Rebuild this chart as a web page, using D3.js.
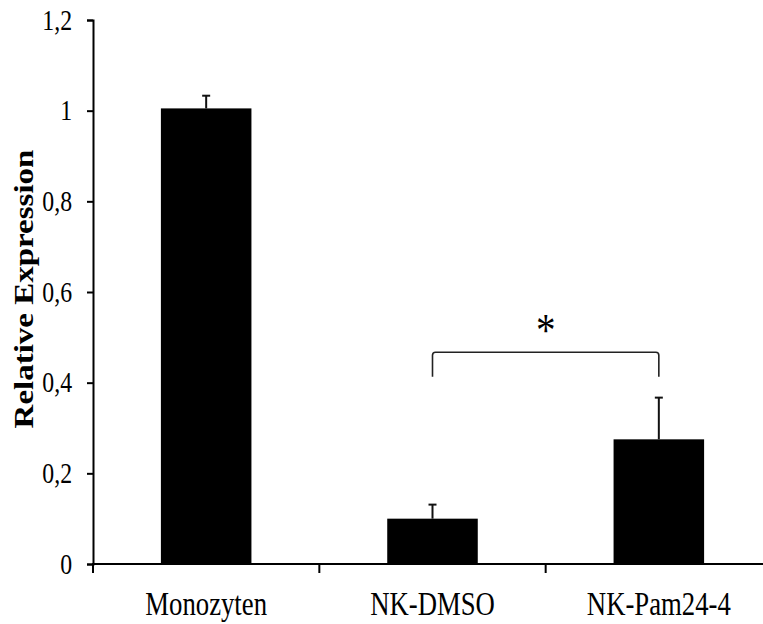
<!DOCTYPE html>
<html>
<head>
<meta charset="utf-8">
<script src="https://cdn.jsdelivr.net/npm/d3@7"></script>
<style>
  body { margin: 0; background: #fff; }
  svg { display: block; }
</style>
</head>
<body>
<div id="chart"></div>
<script>
// data
const categories = ["Monozyten", "NK-DMSO", "NK-Pam24-4"];
const values = [1.005, 0.1, 0.275];
const errors = [0.028, 0.031, 0.092];
const yTicks = [0, 0.2, 0.4, 0.6, 0.8, 1, 1.2];
const yLabel = "Relative Expression";
const signif = { from: "NK-DMSO", to: "NK-Pam24-4", bracketY: 0.467, legY: 0.413, mark: "*" };

const width = 763, height = 624;
const font = "'Liberation Serif', 'Times New Roman', serif";
const squeeze = 0.81; // the picture is stretched vertically, so text looks narrow

const svg = d3.select("#chart")
  .append("svg")
  .attr("width", width)
  .attr("height", height);

const x = d3.scaleBand()
  .domain(categories)
  .range([93, 772])
  .paddingInner(0.6)
  .paddingOuter(0.3);

const y = d3.scaleLinear()
  .domain([0, 1.2])
  .range([564, 20]);

const rows = categories.map((c, i) => ({ c, v: values[i], e: errors[i] }));

// bars
svg.append("g")
  .selectAll("rect")
  .data(rows)
  .enter()
  .append("rect")
  .attr("x", d => x(d.c))
  .attr("y", d => y(d.v))
  .attr("width", x.bandwidth())
  .attr("height", d => y(0) - y(d.v))
  .attr("fill", "#000");

// error bars (upper only)
const err = svg.append("g").attr("stroke", "#111").attr("stroke-width", 2);
rows.forEach(d => {
  const cx = x(d.c) + x.bandwidth() / 2;
  err.append("line")
    .attr("x1", cx).attr("x2", cx)
    .attr("y1", y(d.v)).attr("y2", y(d.v + d.e));
  err.append("line")
    .attr("x1", cx - 4).attr("x2", cx + 4)
    .attr("y1", y(d.v + d.e)).attr("y2", y(d.v + d.e));
});

// y axis
const yAxis = svg.append("g")
  .attr("transform", "translate(93,0)")
  .call(d3.axisLeft(y)
    .tickValues(yTicks)
    .tickSize(6)
    .tickPadding(20)
    .tickFormat(d => String(d).replace(".", ",")));
yAxis.select(".domain").attr("stroke-width", 2);
yAxis.selectAll(".tick line").attr("stroke-width", 2);
yAxis.selectAll("text")
  .attr("font-family", font)
  .attr("font-size", 29)
  .attr("fill", "#000")
  .attr("x", -21 / 0.82)
  .attr("transform", "scale(0.82,1)");

// x axis
const x0 = x.range()[0];
const step = x.step();
svg.append("line")
  .attr("x1", x0 - 1).attr("x2", width)
  .attr("y1", y(0)).attr("y2", y(0))
  .attr("stroke", "#000").attr("stroke-width", 2);
svg.append("g")
  .selectAll("line")
  .data(categories)
  .enter()
  .append("line")
  .attr("x1", (d, i) => x0 + i * step)
  .attr("x2", (d, i) => x0 + i * step)
  .attr("y1", y(0)).attr("y2", y(0) + 9)
  .attr("stroke", "#000").attr("stroke-width", 2);

svg.append("g")
  .selectAll("text")
  .data(categories)
  .enter()
  .append("text")
  .attr("transform", d => `translate(${x(d) + x.bandwidth() / 2},615) scale(${squeeze},1)`)
  .attr("text-anchor", "middle")
  .attr("font-family", font)
  .attr("font-size", 33)
  .text(d => d);

// y title
svg.append("text")
  .attr("transform", "translate(33,289) scale(0.82,1) rotate(-90)")
  .attr("text-anchor", "middle")
  .attr("font-family", font)
  .attr("font-weight", "bold")
  .attr("font-size", 33)
  .text(yLabel);

// significance bracket
const bx1 = x(signif.from) + x.bandwidth() / 2;
const bx2 = x(signif.to) + x.bandwidth() / 2;
const by = y(signif.bracketY), bl = y(signif.legY), r = 3;
svg.append("path")
  .attr("d", `M${bx1},${bl} V${by + r} Q${bx1},${by} ${bx1 + r},${by} H${bx2 - r} Q${bx2},${by} ${bx2},${by + r} V${bl}`)
  .attr("fill", "none")
  .attr("stroke", "#222")
  .attr("stroke-width", 1.6);

svg.append("text")
  .attr("transform", `translate(${(bx1 + bx2) / 2},${by - 6}) scale(0.85,1)`)
  .attr("text-anchor", "middle")
  .attr("font-family", font)
  .attr("font-size", 46)
  .text(signif.mark);
</script>
</body>
</html>
